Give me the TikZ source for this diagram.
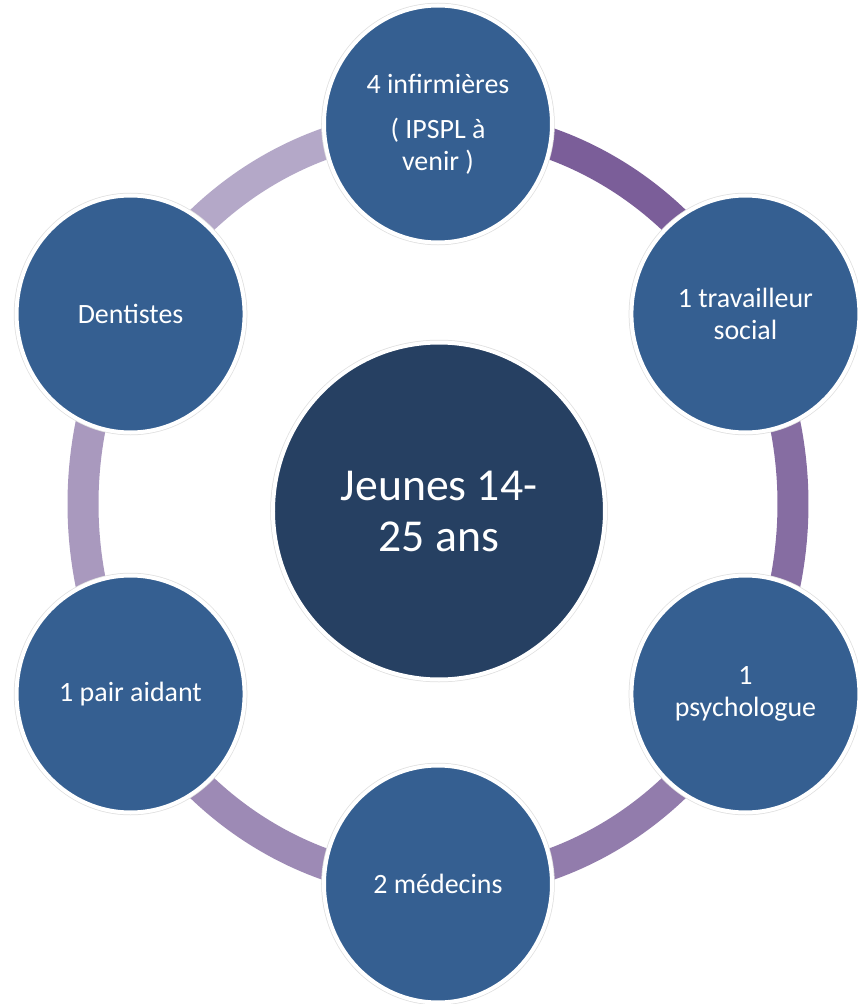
\documentclass[tikz,border=0pt]{standalone}
\usepackage{fontspec}
\setmainfont{Carlito}
\usepackage{xcolor}
\usepackage{tikz}
\usetikzlibrary{shapes.geometric, backgrounds}

\definecolor{satblue}{HTML}{355F91}
\definecolor{coreblue}{HTML}{264062}
\definecolor{ringdark}{HTML}{7B5E99}
\definecolor{ringlight}{HTML}{B4A8C8}

\tikzset{
  member/.style={ellipse, fill=satblue, draw=white, line width=0.08cm,
    preaction={draw=black!12, line width=0.11cm},
    minimum width=4.56cm, minimum height=4.74cm, inner sep=0pt,
    text=white, align=center, font=\fontsize{15.9pt}{18.2pt}\selectfont},
  core/.style={member, fill=coreblue, minimum width=6.64cm, minimum height=6.74cm,
    font=\fontsize{26pt}{29pt}\selectfont},
  link/.style={line width=0.62cm},
}

\begin{document}
\begin{tikzpicture}

  \useasboundingbox (-8.76,-10.0) rectangle (8.4,10.08);

  \node[core] (jeunes) at (0.02,-0.14) {Jeunes 14-\\25 ans};

  \node[member] (inf) at (90:7.1 and 7.6)
  {4 infirmières\\[0.26cm]( IPSPL à\\venir )};

  \node[member] (trav) at (30:7.1 and 7.6)
  {1 travailleur\\social};

  \node[member] (psy) at (-30:7.1 and 7.6)
  {1\\psychologue};

  \node[member] (med) at (-90:7.1 and 7.6)
  {2 médecins};

  \node[member] (pair) at (-150:7.1 and 7.6)
  {1 pair aidant};

  \node[member] (dent) at (150:7.1 and 7.6)
  {Dentistes};

  \begin{scope}[on background layer]
    \fill[white] (-8.76,-10.0) rectangle (8.4,10.08);
    \draw[link, ringdark] (inf.center) arc[start angle=90, end angle=30, x radius=7.1, y radius=7.6];
    \draw[link, ringdark!80!ringlight] (trav.center) arc[start angle=30, end angle=-30, x radius=7.1, y radius=7.6];
    \draw[link, ringdark!60!ringlight] (psy.center) arc[start angle=-30, end angle=-90, x radius=7.1, y radius=7.6];
    \draw[link, ringdark!40!ringlight] (med.center) arc[start angle=-90, end angle=-150, x radius=7.1, y radius=7.6];
    \draw[link, ringdark!20!ringlight] (pair.center) arc[start angle=-150, end angle=-210, x radius=7.1, y radius=7.6];
    \draw[link, ringlight] (dent.center) arc[start angle=150, end angle=90, x radius=7.1, y radius=7.6];
  \end{scope}

\end{tikzpicture}
\end{document}
